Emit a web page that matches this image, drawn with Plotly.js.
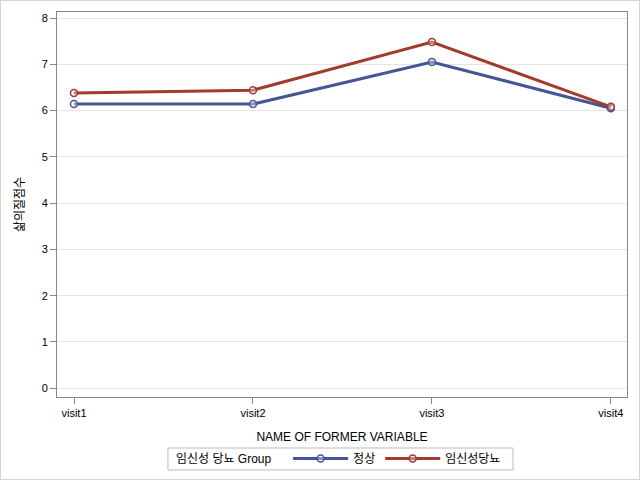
<!DOCTYPE html>
<html><head><meta charset="utf-8">
<script src="https://cdn.plot.ly/plotly-3.0.1.min.js"></script>
<style>body{margin:0;padding:0;background:#fff}#wrap{width:638px;height:478px;border:1px solid #d4d4d4}#chart{width:638px;height:478px}</style>
</head><body><div id="wrap"><div id="chart"></div></div>
<script>
const visits = ["visit1", "visit2", "visit3", "visit4"];
const normalName = "정상";
const normalVals = [6.14, 6.14, 7.05, 6.05];
const gdmName = "임신성당뇨";
const gdmVals = [6.38, 6.44, 7.48, 6.08];
const yTicks = [0, 1, 2, 3, 4, 5, 6, 7, 8];
const legendTitle = "임신성 당뇨 Group";

const font = "Liberation Sans, Arial, 'Noto Sans CJK KR', sans-serif";
function trace(name, vals, color) {
  return {
    x: visits, y: vals, name: name, type: "scatter", mode: "lines+markers",
    line: {color: color, width: 3},
    marker: {symbol: "circle", size: 7, color: "rgba(255,255,255,0.35)", line: {color: color, width: 1.5}}
  };
}
const data = [trace(normalName, normalVals, "#445694"), trace(gdmName, gdmVals, "#A23A2E")];
const layout = {
  width: 638, height: 478,
  margin: {l: 56, r: 12, t: 11, b: 82},
  paper_bgcolor: "#fff", plot_bgcolor: "#fff",
  font: {family: font, size: 11, color: "#000"},
  showlegend: true,
  xaxis: {
    type: "category", range: [-0.095, 3.09], automargin: false,
    showline: true, mirror: true, linecolor: "#888", linewidth: 1,
    ticks: "outside", ticklen: 6, tickcolor: "#888",
    showgrid: false, zeroline: false,
    tickfont: {size: 11},
    title: {text: "NAME OF FORMER VARIABLE", font: {size: 12}, standoff: 15}
  },
  yaxis: {
    range: [-0.19, 8.13], tickvals: yTicks, automargin: false,
    showline: true, mirror: true, linecolor: "#888", linewidth: 1,
    ticks: "outside", ticklen: 6, tickcolor: "#888",
    showgrid: true, gridcolor: "#e4e4e4", zeroline: false,
    tickfont: {size: 11},
    title: {text: "삶의질점수", font: {size: 12}, standoff: 14}
  },
  legend: {
    orientation: "h", x: 0.45, xanchor: "left", xref: "container",
    y: 0.0734, yanchor: "top", yref: "container",
    bgcolor: "rgba(0,0,0,0)", borderwidth: 0,
    font: {size: 12}, itemwidth: 55, tracegroupgap: 0
  },
  shapes: [{
    type: "rect", xref: "paper", yref: "paper",
    x0: 0.1947, x1: 0.8, y0: -0.1325, y1: -0.1896,
    line: {color: "#bbb", width: 1}, fillcolor: "rgba(0,0,0,0)"
  }],
  annotations: [{
    text: legendTitle, xref: "paper", yref: "paper", x: 0.205, y: -0.161,
    xanchor: "left", yanchor: "middle", showarrow: false, font: {size: 12}
  }]
};
Plotly.newPlot("chart", data, layout, {displayModeBar: false, staticPlot: true});
</script></body></html>
